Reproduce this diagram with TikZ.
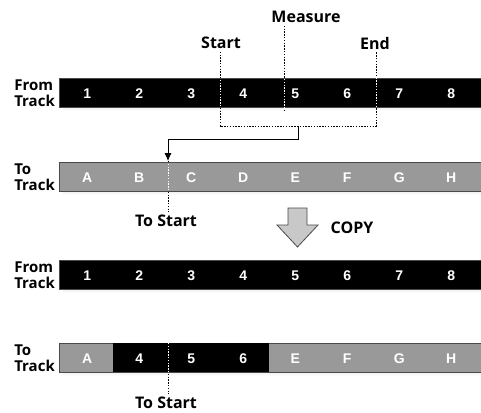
\documentclass[tikz,border=0pt]{standalone}
\usepackage{fontspec}
\setmainfont{Open Sans}
\newfontfamily\cellfont{Liberation Sans}
\usepackage{tikz}
\usetikzlibrary{arrows.meta,positioning,calc}
\definecolor{bargray}{HTML}{999999}
\definecolor{barline}{HTML}{4A4A4A}
\definecolor{shade}{HTML}{707070}
\definecolor{copyfill}{HTML}{C8C8C8}
\tikzset{
  >={Latex[length=8pt,width=7pt]},
  trackbar/.style={draw=barline,line width=0.8pt,minimum width=428pt,minimum height=29pt,
    anchor=north west,inner sep=0pt},
  cell/.style={minimum width=52pt,minimum height=29pt,inner sep=0pt,anchor=north west,
    text height=12.5pt,text depth=0pt,
    text=white,font=\cellfont\bfseries\fontsize{14}{14}\selectfont},
  tracklbl/.style={align=left,inner sep=0pt,font=\bfseries\fontsize{15}{16}\selectfont},
  marklbl/.style={inner sep=1pt,outer sep=2pt,font=\bfseries\fontsize{16}{16}\selectfont},
  dotline/.style={line width=1pt,dash pattern=on 1.4pt off 1.4pt},
  flow/.style={->,line width=0.8pt}
}
\begin{document}
\begin{tikzpicture}[x=1pt,y=-1pt]
  \useasboundingbox (0,0) rectangle (481,412);
  % the four track bars with their shadows
  \foreach \trk/\ytop/\col in {from1/78/black,to1/162/bargray,from2/260/black,to2/343/bargray}{
    \fill[shade] (63,\ytop) rectangle (490,\ytop+33);
    \node[trackbar,fill=\col] (\trk) at (59,\ytop) {};
  }
  \node[tracklbl,left=4pt of from1] (lfrom1) {From\\Track};
  \node[tracklbl,left=4pt of to1] (lto1) {To\\Track};
  \node[tracklbl,left=4pt of from2] (lfrom2) {From\\Track};
  \node[tracklbl,left=4pt of to2] (lto2) {To\\Track};
  % measures
  \foreach \lab [count=\i] in {1,...,8}
    \node[cell] (from1-\i) at ({61+52*(\i-1)},78) {\lab};
  \foreach \lab [count=\i] in {A,B,C,D,E,F,G,H}
    \node[cell] (to1-\i) at ({61+52*(\i-1)},162) {\lab};
  \foreach \lab [count=\i] in {1,...,8}
    \node[cell] (from2-\i) at ({61+52*(\i-1)},260) {\lab};
  \foreach \lab/\f [count=\i] in {A/none,4/black,5/black,6/black,E/none,F/none,G/none,H/none}
    \node[cell,fill=\f] (to2-\i) at ({61+52*(\i-1)},343) {\lab};
  % labels
  \node[marklbl] (start) at (221,43) {Start};
  \node[marklbl] (measure) at (306,17) {Measure};
  \node[marklbl] (end) at (375,43) {End};
  \node[marklbl] (tostart1) at (166,221) {To Start};
  \node[marklbl] (copy) at (352,228) {COPY};
  \node[marklbl] (tostart2) at (166,403) {To Start};
  \coordinate (brL) at (220,126);
  \coordinate (brR) at (376,126);
  \coordinate (brM) at (298,126);
  \coordinate (msr) at (284,110);
  \coordinate (turn) at (168,139);
  \coordinate (ts1) at (168,161);
  \coordinate (ts2) at (168,343);
  % dotted markers, white where they cross a bar
  \draw[dotline] (brL |- start.south) -- (brL) -- (brR) -- (brR |- end.south);
  \draw[dotline] (msr |- measure.south) -- (msr);
  \draw[dotline] (ts1) -- (ts1 |- tostart1.north);
  \draw[dotline] (ts2) -- (ts2 |- tostart2.north);
  \begin{scope}
    \clip (from1.north west) rectangle (from1.south east)
          (to1.north west) rectangle (to1.south east)
          (to2.north west) rectangle (to2.south east);
    \draw[dotline,white] (brL |- start.south) -- (brL) -- (brR) -- (brR |- end.south);
    \draw[dotline,white] (msr |- measure.south) -- (msr);
    \draw[dotline,white] (ts1) -- (ts1 |- tostart1.north);
    \draw[dotline,white] (ts2) -- (ts2 |- tostart2.north);
  \end{scope}
  \draw[flow] (brM) |- (turn) -- (ts1);
  % copy arrow
  \filldraw[fill=copyfill,draw=barline,line width=0.8pt] (288,208) -- (307,208) -- (307,225)
    -- (318,225) -- (297.5,247) -- (277,225) -- (288,225) -- cycle;
\end{tikzpicture}
\end{document}
